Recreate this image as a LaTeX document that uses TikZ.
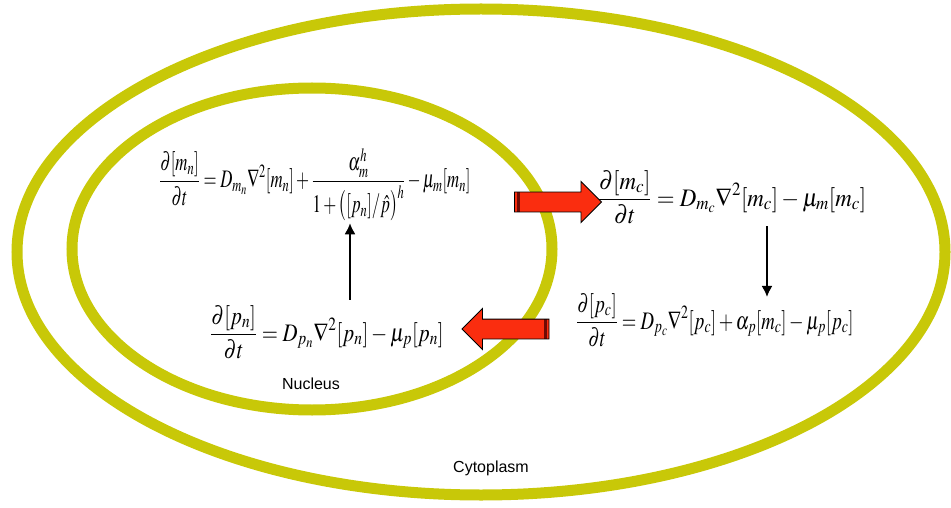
\documentclass[tikz,border=0pt]{standalone}
\usepackage{amsmath}
\usepackage{mathptmx}
\usepackage{fontspec}
\newfontfamily\labelfont{Liberation Sans}
\usetikzlibrary{shapes.arrows,arrows.meta,positioning,calc}
\definecolor{membrane}{RGB}{200,200,8}
\definecolor{arrowred}{RGB}{250,45,15}
\definecolor{darkred}{RGB}{110,10,5}
% equation set tall and narrow, as in the figure
\newcommand{\eqbox}[2]{\scalebox{#1}[1.2]{$\displaystyle #2$}}

\begin{document}
\begin{tikzpicture}[
    x=1pt, y=-1pt,
    wall/.style={draw=membrane, line width=11pt},
    eqn/.style={inner sep=2pt, font=\fontsize{21}{24}\selectfont},
    region/.style={font=\labelfont\fontsize{16}{18}\selectfont},
    transport/.style={single arrow, draw=black, fill=arrowred, line width=0.9pt,
        minimum height=87pt, inner xsep=0pt, inner ysep=9.5pt,
        single arrow head extend=10.5pt},
    flow/.style={-{Latex[length=11pt,width=11pt]}, line width=1.6pt}
]
    \useasboundingbox (0,0) rectangle (951,508);

    % Membranes
    \draw[wall] (481,252) ellipse [x radius=464, y radius=243];
    \draw[wall] (312,249) ellipse [x radius=240, y radius=161];

    % Nucleus
    \node[eqn] (mn) at (315,185)
        {\eqbox{0.8}{\frac{\partial[m_n]}{\partial t}=D_{m_n}\nabla^2[m_n]+\frac{\alpha_m^h}{1+\bigl([p_n]/\hat{p}\bigr)^h}-\mu_m[m_n]}};
    \node[eqn] (pn) at (327,332)
        {\eqbox{0.99}{\frac{\partial[p_n]}{\partial t}=D_{p_n}\nabla^2[p_n]-\mu_p[p_n]}};
    \node[region] (nucleus) at (311,384) {Nucleus};

    % Cytoplasm
    \node[eqn] (mc) at (732,197)
        {\eqbox{1.09}{\frac{\partial[m_c]}{\partial t}=D_{m_c}\nabla^2[m_c]-\mu_m[m_c]}};
    \node[eqn] (pc) at (715,320)
        {\eqbox{0.89}{\frac{\partial[p_c]}{\partial t}=D_{p_c}\nabla^2[p_c]+\alpha_p[m_c]-\mu_p[p_c]}};
    \node[region] (cytoplasm) at (491,468) {Cytoplasm};

    % Transport across the nuclear membrane
    \node[transport, path picture={\fill[darkred] ([xshift=2.5pt]path picture bounding box.south west) rectangle ([xshift=5.5pt]path picture bounding box.north west);}]
        (export) at (553,202) {};
    \node[transport, shape border rotate=180, path picture={\fill[darkred] ([xshift=-2.5pt]path picture bounding box.south east) rectangle ([xshift=-5.5pt]path picture bounding box.north east);}]
        (import) at (510.5,329) {};

    % Edges
    \draw[flow, shorten >=-6pt] ([xshift=35pt]mc.south) -- ([xshift=35pt]mc.south |- pc.north);
    \draw[flow, shorten <=3pt] ([xshift=23pt]pn.north) -- ([xshift=23pt]pn.north |- mn.south);
\end{tikzpicture}
\end{document}
